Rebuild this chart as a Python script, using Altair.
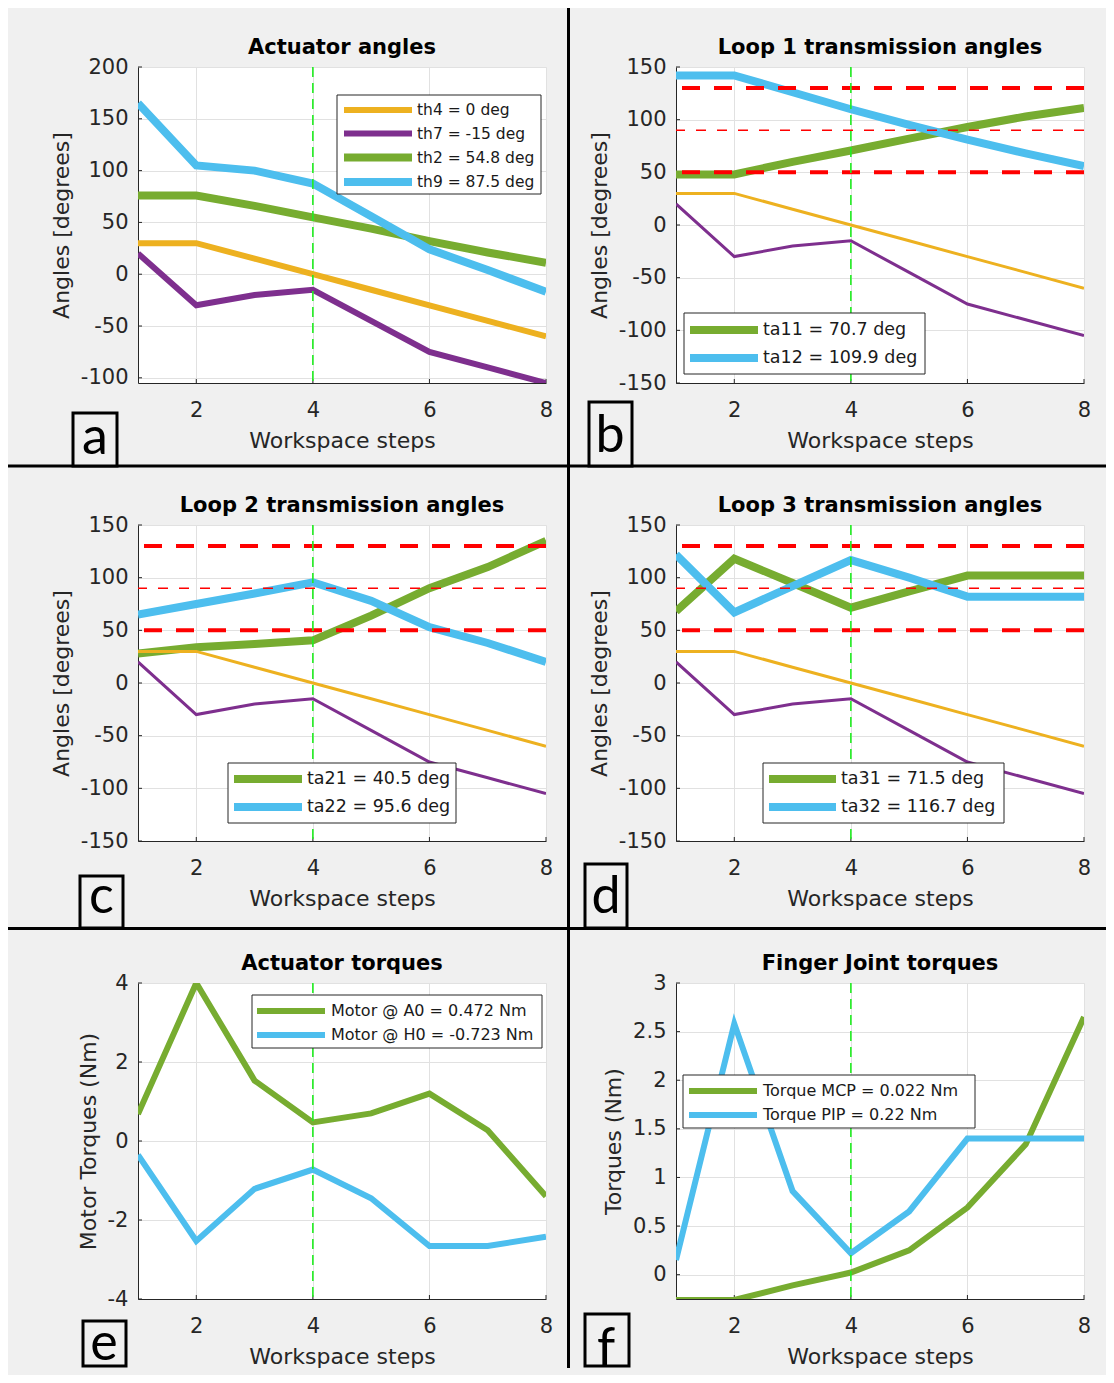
import altair as alt
import pandas as pd

# ---------------- data ----------------
steps = [1, 2, 3, 4, 5, 6, 7, 8]

th4 = [30, 30, 15, 0, -15, -30, -45, -60]
th7 = [20, -30, -20, -15, -45, -75, -90, -105]
th2 = [76, 76, 66, 54.8, 44, 32, 21, 11]
th9 = [165, 105, 100, 87.5, 56, 24, 4, -17]

ta11 = [48, 48, 60, 70.7, 82, 93, 103, 111]
ta12 = [142, 142, 126, 109.9, 95, 81, 68, 56]
ta21 = [28, 34, 37, 40.5, 64, 90, 110, 135]
ta22 = [65, 75, 85, 95.6, 78, 53, 38, 20]
ta31 = [68, 118, 95, 71.5, 87, 102, 102, 102]
ta32 = [122, 67, 92, 116.7, 100, 82, 82, 82]

motor_a0 = [0.68, 4.0, 1.53, 0.472, 0.7, 1.2, 0.27, -1.4]
motor_h0 = [-0.35, -2.53, -1.21, -0.723, -1.45, -2.66, -2.66, -2.42]
torque_mcp = [-0.26, -0.26, -0.11, 0.022, 0.25, 0.69, 1.34, 2.65]
torque_pip = [0.15, 2.58, 0.86, 0.22, 0.65, 1.4, 1.4, 1.4]

x_ticks = [2, 4, 6, 8]
angle_ticks_a = [-100, -50, 0, 50, 100, 150, 200]
angle_ticks = [-150, -100, -50, 0, 50, 100, 150]
motor_ticks = [-4, -2, 0, 2, 4]
joint_ticks = [0, 0.5, 1, 1.5, 2, 2.5, 3]

limit_lines = [50, 130]
ideal_line = [90]
selected_step = [4]

titles = ["Actuator angles", "Loop 1 transmission angles", "Loop 2 transmission angles",
          "Loop 3 transmission angles", "Actuator torques", "Finger Joint torques"]
legend_a = ["th4 = 0 deg", "th7 = -15 deg", "th2 = 54.8 deg", "th9 = 87.5 deg"]
legend_b = ["ta11 = 70.7 deg", "ta12 = 109.9 deg"]
legend_c = ["ta21 = 40.5 deg", "ta22 = 95.6 deg"]
legend_d = ["ta31 = 71.5 deg", "ta32 = 116.7 deg"]
legend_e = ["Motor @ A0 = 0.472 Nm", "Motor @ H0 = -0.723 Nm"]
legend_f = ["Torque MCP = 0.022 Nm", "Torque PIP = 0.22 Nm"]

# ---------------- style ----------------
FONT = "DejaVu Sans"
W, H = 408, 316
BG = "#F0F0F0"
AXC = "#262626"
ORANGE = "#EDB120"
PURPLE = "#7E2F8E"
GREEN = "#77AC30"
BLUE = "#4DBEEE"
RED = "#FF0000"
VGREEN = "#22EE22"
ONE = pd.DataFrame({"k": [0]})


def box(x0, y0, x1, y1, **mk):
    return alt.Chart(ONE).mark_rect(**mk).encode(
        x=alt.value(x0), x2=alt.value(x1), y=alt.value(y0), y2=alt.value(y1))


def seg(x0, x1, y, color, width):
    return alt.Chart(ONE).mark_rule(color=color, strokeWidth=width, strokeCap="butt").encode(
        x=alt.value(x0), x2=alt.value(x1), y=alt.value(y))


def label(x, y, text, size, **mk):
    return alt.Chart(ONE).mark_text(text=text, fontSize=size, **mk).encode(
        x=alt.value(x), y=alt.value(y))


def panel(origin, title, ytitle, ydom, yticks, lines, hlines, leg, letter, extra=None):
    ox, oy = origin
    X = alt.X("step:Q", scale=alt.Scale(domain=[1, 8], nice=False, zero=False),
              axis=alt.Axis(values=x_ticks, title="Workspace steps"))
    Y = alt.Y("value:Q", scale=alt.Scale(domain=ydom, nice=False, zero=False),
              axis=alt.Axis(values=yticks, title=ytitle, labelExpr="'' + datum.value"))
    layers = []
    if extra:
        layers += extra
    # inward tick marks (MATLAB style), placed through the scales
    layers.append(alt.Chart(pd.DataFrame({"step": x_ticks}))
                  .mark_rule(color=AXC, strokeWidth=1)
                  .encode(x=X, y=alt.value(H), y2=alt.value(H - 4)))
    layers.append(alt.Chart(pd.DataFrame({"value": yticks}))
                  .mark_rule(color=AXC, strokeWidth=1)
                  .encode(y=Y, x=alt.value(0), x2=alt.value(4)))
    for vals, color, width in lines:
        df = pd.DataFrame({"step": steps, "value": vals})
        layers.append(alt.Chart(df).mark_line(color=color, strokeWidth=width, clip=True)
                      .encode(x=X, y=Y))
    if hlines:
        layers.append(alt.Chart(pd.DataFrame({"value": limit_lines}))
                      .mark_rule(color=RED, strokeWidth=4, strokeDash=[18, 14])
                      .encode(y=Y))
        layers.append(alt.Chart(pd.DataFrame({"value": ideal_line}))
                      .mark_rule(color=RED, strokeWidth=1.6, strokeDash=[10, 11])
                      .encode(y=Y))
    layers.append(alt.Chart(pd.DataFrame({"step": selected_step}))
                  .mark_rule(color=VGREEN, strokeWidth=1.6, strokeDash=[10, 6])
                  .encode(x=X))
    # legend (page coordinates converted to panel coordinates)
    (bx0, by0, bx1, by1), rows, (sx0, sx1), lx, fs, entries = leg
    layers.append(box(bx0 - ox, by0 - oy, bx1 - ox, by1 - oy,
                      fill="white", stroke=AXC, strokeWidth=1))
    for ry, (txt, color, width) in zip(rows, entries):
        layers.append(seg(sx0 - ox, sx1 - ox, ry - oy, color, width))
        layers.append(label(lx - ox, ry - oy, txt, fs, align="left", baseline="middle",
                            color="#1A1A1A", font=FONT))
    # title
    layers.append(label(W / 2, -13.5, title, 21, align="center", baseline="alphabetic",
                        fontWeight="bold", color="#000000", font=FONT))
    # panel letter
    lt, (lx0, ly0, lx1, ly1), (tx, ty) = letter
    layers.append(box(lx0 - ox, ly0 - oy, lx1 - ox, ly1 - oy,
                      fill=BG, stroke="#000000", strokeWidth=3))
    layers.append(label(tx - ox, ty - oy, lt, 52, align="center", baseline="alphabetic",
                        font="Lato", color="#000000"))
    return alt.layer(*layers).properties(width=W, height=H)


oa = (138, 67)
RIGHT_EDGE = 1106  # page x where the figure ends (page body is 1098 wide)
separators = [
    box(8 - oa[0], 464.5 - oa[1], RIGHT_EDGE - oa[0], 467.5 - oa[1], fill="#000000"),
    box(8 - oa[0], 927 - oa[1], RIGHT_EDGE - oa[0], 930 - oa[1], fill="#000000"),
    box(567 - oa[0], 8 - oa[1], 570 - oa[0], 1368 - oa[1], fill="#000000"),
]

pa = panel(oa, titles[0], "Angles [degrees]", [-105, 200], angle_ticks_a,
           [(th4, ORANGE, 6), (th7, PURPLE, 6), (th2, GREEN, 8), (th9, BLUE, 8)],
           False,
           ((337, 95, 541, 194), [110, 133.5, 157.5, 182], (344, 412), 417, 15.5,
            [(legend_a[0], ORANGE, 6), (legend_a[1], PURPLE, 6),
             (legend_a[2], GREEN, 8), (legend_a[3], BLUE, 8)]),
           ("a", (73, 413, 117, 466), (95, 454)),
           extra=separators)

pb = panel((676, 67), titles[1], "Angles [degrees]", [-150, 150], angle_ticks,
           [(ta11, GREEN, 8), (ta12, BLUE, 8), (th4, ORANGE, 3), (th7, PURPLE, 3)],
           True,
           ((684, 313, 925, 374), [330, 358], (690, 758), 763, 17.5,
            [(legend_b[0], GREEN, 8), (legend_b[1], BLUE, 8)]),
           ("b", (589, 402, 632, 466), (610, 452)))

pc = panel((138, 525), titles[2], "Angles [degrees]", [-150, 150], angle_ticks,
           [(ta21, GREEN, 8), (ta22, BLUE, 8), (th4, ORANGE, 3), (th7, PURPLE, 3)],
           True,
           ((228, 763, 456, 823), [779, 807], (234, 302), 307, 17.5,
            [(legend_c[0], GREEN, 8), (legend_c[1], BLUE, 8)]),
           ("c", (80, 876, 123, 928), (101.5, 913)))

pd_ = panel((676, 525), titles[3], "Angles [degrees]", [-150, 150], angle_ticks,
            [(ta31, GREEN, 8), (ta32, BLUE, 8), (th4, ORANGE, 3), (th7, PURPLE, 3)],
            True,
            ((763, 763, 1004, 823), [779, 807], (769, 836), 841, 17.5,
             [(legend_d[0], GREEN, 8), (legend_d[1], BLUE, 8)]),
            ("d", (585, 864, 627, 928), (606, 913)))

pe = panel((138, 983), titles[4], "Motor Torques (Nm)", [-4, 4], motor_ticks,
           [(motor_a0, GREEN, 6), (motor_h0, BLUE, 6)],
           False,
           ((252, 995, 542, 1048), [1011, 1035], (257, 325), 331, 16,
            [(legend_e[0], GREEN, 6), (legend_e[1], BLUE, 6)]),
           ("e", (83, 1321, 126, 1366), (104, 1360)))

pf = panel((676, 983), titles[5], "Torques (Nm)", [-0.25, 3], joint_ticks,
           [(torque_mcp, GREEN, 6), (torque_pip, BLUE, 6)],
           False,
           ((683, 1075, 975, 1128), [1091, 1115], (689, 757), 763, 16,
            [(legend_f[0], GREEN, 6), (legend_f[1], BLUE, 6)]),
           ("f", (585, 1314, 629, 1366), (606, 1365)))

chart = alt.concat(pa, pb, pc, pd_, pe, pf, columns=2,
                   spacing={"row": 142, "column": 130}, bounds="flush", padding=0)

chart = (chart.configure(background=BG, font=FONT)
         .configure_view(fill="white", stroke=None)
         .configure_axis(labelFont=FONT, labelFontSize=21, labelColor=AXC,
                         titleFont=FONT, titleFontSize=22, titleFontWeight="normal",
                         titleColor=AXC, domainColor=AXC, domainWidth=1,
                         gridColor="#E1E1E1", gridWidth=1, ticks=False, tickSize=0,
                         labelFlush=False, labelOverlap=False)
         .configure_axisX(labelPadding=16, titlePadding=10)
         .configure_axisY(labelPadding=10, titlePadding=7))

chart.save("out.html", embed_options={"renderer": "svg", "actions": False})
